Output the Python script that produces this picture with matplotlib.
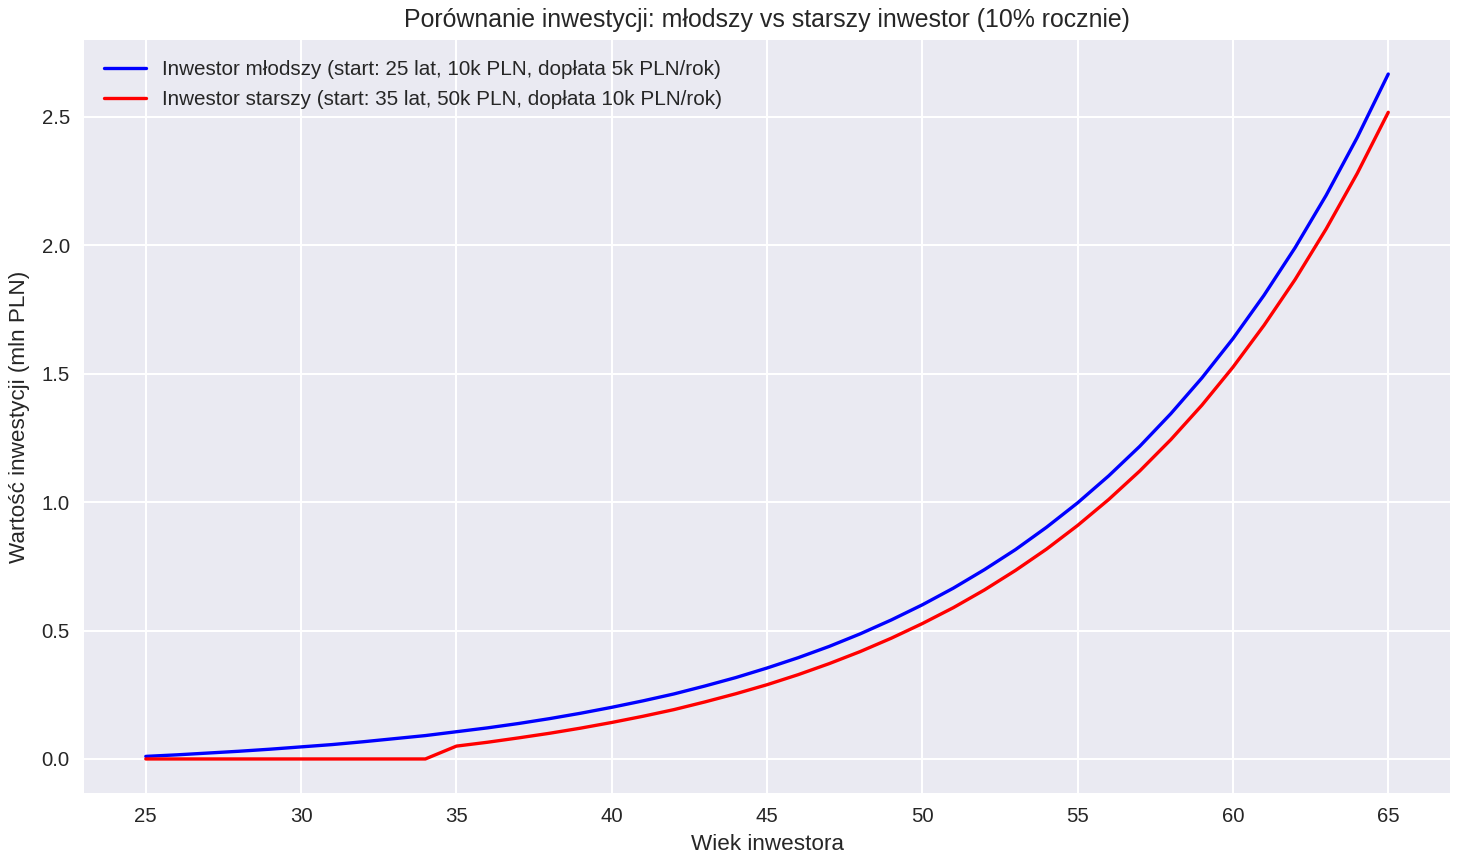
import matplotlib
matplotlib.use('Agg')
import matplotlib.pyplot as plt

# Wiek inwestora (lata)
ages = list(range(25, 66))

# Wartość inwestycji w mln PLN
young = [0.010, 0.016, 0.023, 0.030, 0.038, 0.047, 0.056, 0.067, 0.079, 0.091,
         0.106, 0.121, 0.138, 0.157, 0.178, 0.201, 0.226, 0.253, 0.284, 0.317,
         0.354, 0.394, 0.438, 0.487, 0.541, 0.600, 0.665, 0.737, 0.815, 0.902,
         0.997, 1.102, 1.217, 1.344, 1.483, 1.636, 1.805, 1.990, 2.194, 2.419,
         2.666]
old = [0.0, 0.0, 0.0, 0.0, 0.0, 0.0, 0.0, 0.0, 0.0, 0.0,
       0.050, 0.065, 0.082, 0.100, 0.120, 0.142, 0.166, 0.192, 0.222, 0.254,
       0.289, 0.328, 0.371, 0.418, 0.470, 0.527, 0.589, 0.658, 0.734, 0.817,
       0.909, 1.010, 1.121, 1.243, 1.377, 1.525, 1.688, 1.866, 2.063, 2.279,
       2.517]

labels = ['Inwestor młodszy (start: 25 lat, 10k PLN, dopłata 5k PLN/rok)',
          'Inwestor starszy (start: 35 lat, 50k PLN, dopłata 10k PLN/rok)']

plt.style.use('seaborn-v0_8-darkgrid')
plt.rcParams['font.family'] = ['Liberation Sans', 'DejaVu Sans']
plt.rcParams['grid.linewidth'] = 1.5

fig, ax = plt.subplots(figsize=(14.68, 8.65), dpi=100)
ax.plot(ages, young, color='blue', linewidth=2.4, label=labels[0])
ax.plot(ages, old, color='red', linewidth=2.4, label=labels[1])

ax.set_title('Porównanie inwestycji: młodszy vs starszy inwestor (10% rocznie)',
             fontsize=17.9, pad=9)
ax.set_xlabel('Wiek inwestora', fontsize=16.2, labelpad=6)
ax.set_ylabel('Wartość inwestycji (mln PLN)', fontsize=16.2, labelpad=8)
ax.tick_params(labelsize=14.7, pad=10)
ax.legend(loc='upper left', fontsize=14.9, borderaxespad=0.6)

plt.subplots_adjust(left=0.057, right=0.988, top=0.954, bottom=0.083)
plt.savefig('out.png', dpi=100)
